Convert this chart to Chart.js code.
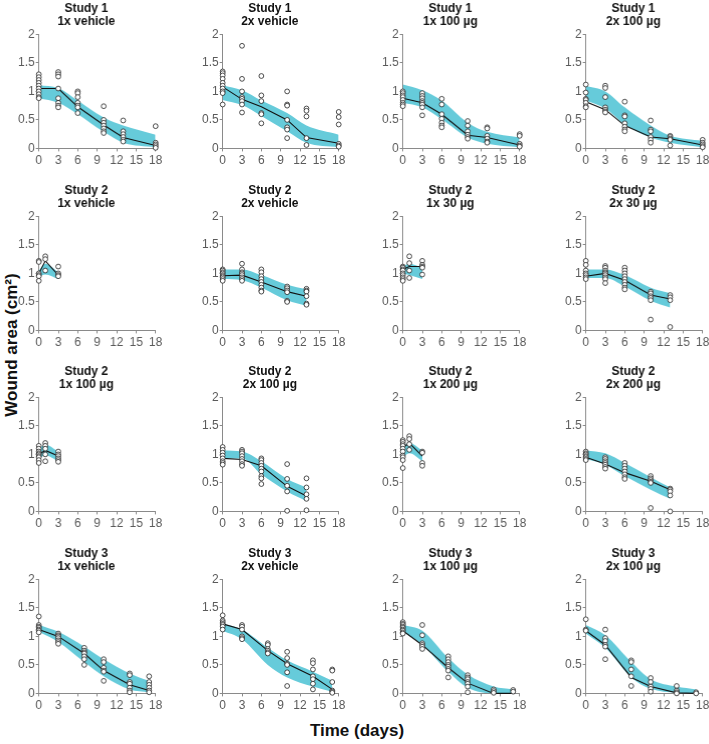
<!DOCTYPE html>
<html>
<head>
<meta charset="utf-8">
<script src="https://cdn.jsdelivr.net/npm/chart.js@4.4.1/dist/chart.umd.min.js"></script>
<style>
  html, body { margin: 0; padding: 0; background: #ffffff; }
  body { width: 709px; height: 744px; position: relative; overflow: hidden; font-family: "Liberation Sans", Arial, sans-serif; }
  .panel { position: absolute; }
  .ytitle { position: absolute; left: 12px; top: 345px; transform: translate(-50%, -50%) rotate(-90deg); font-weight: bold; font-size: 17px; white-space: nowrap; color: #111; }
  .xtitle { position: absolute; left: 357px; top: 731px; transform: translate(-50%, -50%); font-weight: bold; font-size: 17px; white-space: nowrap; color: #111; }
</style>
</head>
<body>
<div class="ytitle">Wound area (cm²)</div>
<div class="xtitle">Time (days)</div>
<script>
// ---------------- DATA ----------------
const studies = ["Study 1","Study 1","Study 1","Study 1",
                 "Study 2","Study 2","Study 2","Study 2",
                 "Study 2","Study 2","Study 2","Study 2",
                 "Study 3","Study 3","Study 3","Study 3"];
const treatments = ["1x vehicle","2x vehicle","1x 100 µg","2x 100 µg",
                    "1x vehicle","2x vehicle","1x 30 µg","2x 30 µg",
                    "1x 100 µg","2x 100 µg","1x 200 µg","2x 200 µg",
                    "1x vehicle","2x vehicle","1x 100 µg","2x 100 µg"];
const xTicks = [0, 3, 6, 9, 12, 15, 18];
const yTicks = [0, 0.5, 1, 1.5, 2];

const days = [
  [0,3,6,10,13,18],[0,3,6,10,13,18],[0,3,6,10,13,18],[0,3,6,10,13,18],
  [0,1,3],[0,3,6,10,13],[0,1,3],[0,3,6,10,13],
  [0,1,3],[0,3,6,10,13],[0,1,3],[0,3,6,10,13],
  [0,3,7,10,14,17],[0,3,7,10,14,17],[0,3,7,10,14,17],[0,3,7,10,14,17]
];
const meanArea = [
  [1.05,1.05,0.73,0.41,0.19,0.05],
  [1.08,0.86,0.73,0.50,0.19,0.09],
  [0.88,0.80,0.60,0.23,0.19,0.06],
  [0.82,0.68,0.40,0.20,0.17,0.06],
  [1.00,1.22,0.97],
  [0.96,0.97,0.85,0.68,0.60],
  [1.07,1.12,1.12],
  [0.95,1.00,0.88,0.62,0.55],
  [1.00,1.07,0.97],
  [0.93,0.91,0.80,0.44,0.27],
  [1.12,1.20,0.97],
  [0.95,0.83,0.68,0.53,0.38],
  [1.12,1.00,0.70,0.40,0.15,0.05],
  [1.22,1.12,0.75,0.52,0.30,0.07],
  [1.10,0.85,0.45,0.18,0.00,0.00],
  [1.10,0.85,0.28,0.12,0.01,0.00]
];
const bandHigh = [
  [1.11,1.06,0.84,0.54,0.40,0.24],
  [1.11,1.02,0.84,0.62,0.40,0.24],
  [1.12,1.02,0.84,0.45,0.29,0.19],
  [1.10,1.00,0.72,0.40,0.22,0.13],
  [1.05,1.17,1.02],
  [1.07,1.07,0.97,0.80,0.72],
  [1.12,1.17,1.10],
  [1.07,1.07,0.97,0.75,0.65],
  [1.10,1.17,1.05],
  [1.07,1.05,0.88,0.57,0.42],
  [1.15,1.20,1.07],
  [1.07,1.02,0.85,0.60,0.42],
  [1.20,1.08,0.82,0.60,0.35,0.22],
  [1.22,1.12,0.80,0.58,0.38,0.22],
  [1.20,1.10,0.62,0.33,0.12,0.07],
  [1.20,1.02,0.55,0.25,0.12,0.07]
];
const bandLow = [
  [0.88,0.80,0.60,0.29,0.10,0.02],
  [0.85,0.76,0.57,0.30,0.10,0.02],
  [0.80,0.72,0.51,0.19,0.08,0.02],
  [0.84,0.70,0.42,0.19,0.10,0.02],
  [0.95,0.98,0.90],
  [0.90,0.88,0.75,0.53,0.43],
  [1.00,0.97,0.90],
  [0.92,0.92,0.77,0.52,0.40],
  [0.93,0.98,0.88],
  [0.93,0.93,0.65,0.35,0.18],
  [0.95,1.02,0.88],
  [0.92,0.82,0.62,0.38,0.22],
  [1.08,0.90,0.55,0.30,0.07,0.02],
  [1.10,0.95,0.50,0.28,0.12,0.03],
  [1.08,0.85,0.38,0.10,0.00,0.00],
  [1.05,0.80,0.28,0.08,0.01,0.00]
];
// observed wound areas, grouped per time point of each panel
const observed = [
  [[1.30,1.25,1.20,1.15,1.10,1.05,1.00,0.95,0.90,0.88],[1.34,1.30,1.26,1.05,0.88,0.80,0.75,0.72],[1.00,0.97,0.90,0.80,0.75,0.72,0.62],[0.74,0.50,0.45,0.40,0.35,0.30,0.27],[0.49,0.30,0.25,0.20,0.15,0.12],[0.39,0.10,0.07,0.04,0.01]],
  [[1.35,1.32,1.28,1.22,1.15,1.10,1.05,1.00,0.97,0.77],[1.80,1.22,1.00,0.90,0.87,0.83,0.77,0.63],[1.27,0.93,0.83,0.62,0.60,0.44],[1.00,0.77,0.75,0.50,0.37,0.33,0.18],[0.70,0.66,0.56,0.18,0.06],[0.64,0.55,0.42,0.08,0.05,0.03]],
  [[1.00,0.97,0.93,0.90,0.85,0.80,0.77,0.74],[0.97,0.92,0.88,0.83,0.80,0.77,0.72,0.58],[0.87,0.77,0.60,0.52,0.45,0.40,0.37],[0.48,0.40,0.30,0.24,0.20,0.17],[0.37,0.35,0.22,0.17,0.12,0.10],[0.25,0.22,0.08,0.05,0.03]],
  [[1.12,0.98,0.87,0.85,0.80,0.74,0.72],[1.10,1.06,0.90,0.72,0.68,0.65,0.63],[0.82,0.58,0.56,0.44,0.38,0.33,0.30],[0.49,0.33,0.30,0.20,0.15,0.10],[0.22,0.20,0.17,0.15,0.05],[0.15,0.10,0.07,0.04,0.02]],
  [[1.22,1.20,1.00,0.97,0.95,0.87],[1.30,1.25,1.05],[1.12,1.00,0.97,0.95]],
  [[1.07,1.05,1.02,1.00,0.97,0.95,0.93,0.90,0.87],[1.17,1.07,1.02,1.00,0.97,0.93,0.90,0.87],[1.07,1.02,0.95,0.90,0.85,0.80,0.75,0.70,0.68],[0.77,0.74,0.70,0.67,0.52,0.50],[0.73,0.70,0.68,0.60,0.47,0.45]],
  [[1.12,1.10,1.07,1.05,1.00,0.97,0.93,0.90,0.87],[1.30,1.18,1.05,0.92],[1.22,1.15,1.12,1.10,0.98]],
  [[1.22,1.15,1.05,1.00,0.97,0.93,0.90],[1.13,1.10,1.05,1.02,1.00,0.97,0.93,0.90,0.83],[1.10,1.05,1.00,0.95,0.90,0.85,0.80,0.75,0.72],[0.68,0.65,0.60,0.57,0.53,0.19],[0.62,0.58,0.53,0.06]],
  [[1.15,1.10,1.05,1.02,1.00,0.97,0.95,0.90,0.85],[1.20,1.15,1.10,1.00,0.88],[1.05,1.00,0.97,0.93,0.90,0.87]],
  [[1.13,1.08,1.03,0.98,0.93,0.88,0.85,0.82],[1.08,1.05,1.02,0.97,0.92,0.88,0.83,0.80],[0.93,0.90,0.85,0.80,0.75,0.70,0.62,0.58,0.48],[0.83,0.57,0.45,0.35,0.01],[0.58,0.42,0.30,0.22,0.02]],
  [[1.25,1.22,1.18,1.15,1.10,1.05,0.98,0.95,0.90,0.76],[1.32,1.27,1.18,1.08],[1.05,1.03,0.85,0.80]],
  [[1.05,1.02,1.00,0.97,0.95,0.92,0.90],[0.95,0.92,0.88,0.85,0.82,0.78,0.75],[0.85,0.80,0.75,0.70,0.65,0.60,0.57],[0.62,0.58,0.55,0.52,0.50,0.06],[0.40,0.38,0.35,0.28,0.00]],
  [[1.35,1.20,1.17,1.15,1.12,1.10,1.07],[1.05,1.02,1.00,0.97,0.93,0.90,0.87],[0.80,0.75,0.72,0.70,0.65,0.60,0.50],[0.60,0.55,0.45,0.40,0.38,0.22],[0.35,0.32,0.20,0.17,0.10,0.05,0.02],[0.30,0.20,0.15,0.10,0.05,0.02]],
  [[1.37,1.28,1.25,1.22,1.20,1.17,1.12],[1.20,1.17,1.12,1.00,0.97,0.95],[0.88,0.85,0.78,0.75,0.72,0.70],[0.73,0.62,0.52,0.50,0.37,0.13],[0.58,0.53,0.42,0.30,0.25,0.17,0.07],[0.42,0.40,0.20,0.05,0.03,0.01]],
  [[1.25,1.22,1.20,1.17,1.15,1.12,1.10,1.07,1.05],[1.20,1.02,0.88,0.85,0.82,0.78],[0.65,0.60,0.55,0.50,0.47,0.43,0.40,0.28],[0.32,0.28,0.25,0.20,0.17,0.12,0.02],[0.07,0.04,0.01],[0.06,0.03]],
  [[1.30,1.12,1.10],[1.12,0.97,0.92,0.85,0.82,0.60],[0.58,0.55,0.42,0.30,0.13],[0.27,0.20,0.12,0.08,0.03],[0.13,0.05,0.02,0.00],[0.02,0.00]]
];

// ---------------- LAYOUT ----------------
const colX0 = [39, 222.5, 403, 586];   // pixel of day 0
const rowY2 = [34, 216, 397, 579];     // pixel of area 2
const plotW = 116, plotH = 114;

const BAND = '#66CBDA';
const AXIS = '#8a8a8a';
const TICK = '#5a5a5a';

function toXY(d, v) { return d.map((x, i) => ({ x: x, y: v[i] })); }

function makePanel(p) {
  const row = Math.floor(p / 4), col = p % 4;
  const wrap = document.createElement('div');
  wrap.className = 'panel';
  wrap.style.width = '180px';
  wrap.style.height = '175px';
  const cv = document.createElement('canvas');
  wrap.appendChild(cv);
  document.body.appendChild(wrap);

  const pts = [];
  observed[p].forEach((vals, i) => vals.forEach(v => pts.push({ x: days[p][i], y: v })));

  const chart = new Chart(cv, {
    type: 'line',
    data: {
      datasets: [
        { label: 'obs', data: pts, showLine: false, order: 0, clip: false,
          pointRadius: 2.4, pointBorderWidth: 0.8, pointBorderColor: '#222',
          pointBackgroundColor: '#ffffff' },
        { label: 'mean', data: toXY(days[p], meanArea[p]), order: 1, clip: false,
          borderColor: '#111', borderWidth: 1.1, pointRadius: 0, tension: 0, fill: false },
        { label: 'upper', data: toXY(days[p], bandHigh[p]), order: 2, clip: false,
          borderWidth: 0, borderColor: BAND, backgroundColor: BAND, pointRadius: 0,
          cubicInterpolationMode: 'monotone', fill: '+1' },
        { label: 'lower', data: toXY(days[p], bandLow[p]), order: 3, clip: false,
          borderWidth: 0, borderColor: BAND, pointRadius: 0,
          cubicInterpolationMode: 'monotone', fill: false }
      ]
    },
    options: {
      responsive: true,
      maintainAspectRatio: false,
      animation: false,
      events: [],
      layout: { padding: { left: 0, right: 20, top: 0, bottom: 0 } },
      plugins: {
        legend: { display: false },
        tooltip: { enabled: false },
        title: {
          display: true,
          text: [studies[p], treatments[p]],
          color: '#111',
          font: { family: 'Liberation Sans', size: 12, weight: 'bold', lineHeight: 1.1 },
          padding: { top: 0, bottom: 6 }
        }
      },
      scales: {
        x: {
          type: 'linear', min: 0, max: 18,
          afterBuildTicks: s => { s.ticks = xTicks.map(v => ({ value: v })); },
          border: { display: true, color: AXIS, width: 1 },
          grid: { display: true, drawOnChartArea: false, drawTicks: true, tickLength: 3, color: AXIS },
          ticks: { color: TICK, padding: 2, maxRotation: 0, autoSkip: false,
                   font: { family: 'Liberation Sans', size: 12 } }
        },
        y: {
          type: 'linear', min: 0, max: 2,
          afterBuildTicks: s => { s.ticks = yTicks.map(v => ({ value: v })); },
          border: { display: true, color: AXIS, width: 1 },
          grid: { display: true, drawOnChartArea: false, drawTicks: true, tickLength: 3, color: AXIS },
          ticks: { color: TICK, padding: 1, autoSkip: false,
                   font: { family: 'Liberation Sans', size: 12 },
                   callback: v => String(v) }
        }
      }
    }
  });

  // fit the chart area to the reference plot box and centre titles over it
  for (let k = 0; k < 4; k++) {
    const a = chart.chartArea;
    const leftM = a.left, rightM = chart.width - a.right;
    const pad = chart.options.layout.padding;
    pad.right = Math.max(0, pad.right + (leftM - rightM));
    const newW = leftM + plotW + leftM;
    const newH = a.top + plotH + (chart.height - a.bottom);
    wrap.style.width = newW + 'px';
    wrap.style.height = newH + 'px';
    chart.resize();
    chart.update('none');
  }
  const a = chart.chartArea;
  wrap.style.left = (colX0[col] - a.left) + 'px';
  wrap.style.top = (rowY2[row] - a.top) + 'px';
}

for (let p = 0; p < 16; p++) makePanel(p);
</script>
</body>
</html>
